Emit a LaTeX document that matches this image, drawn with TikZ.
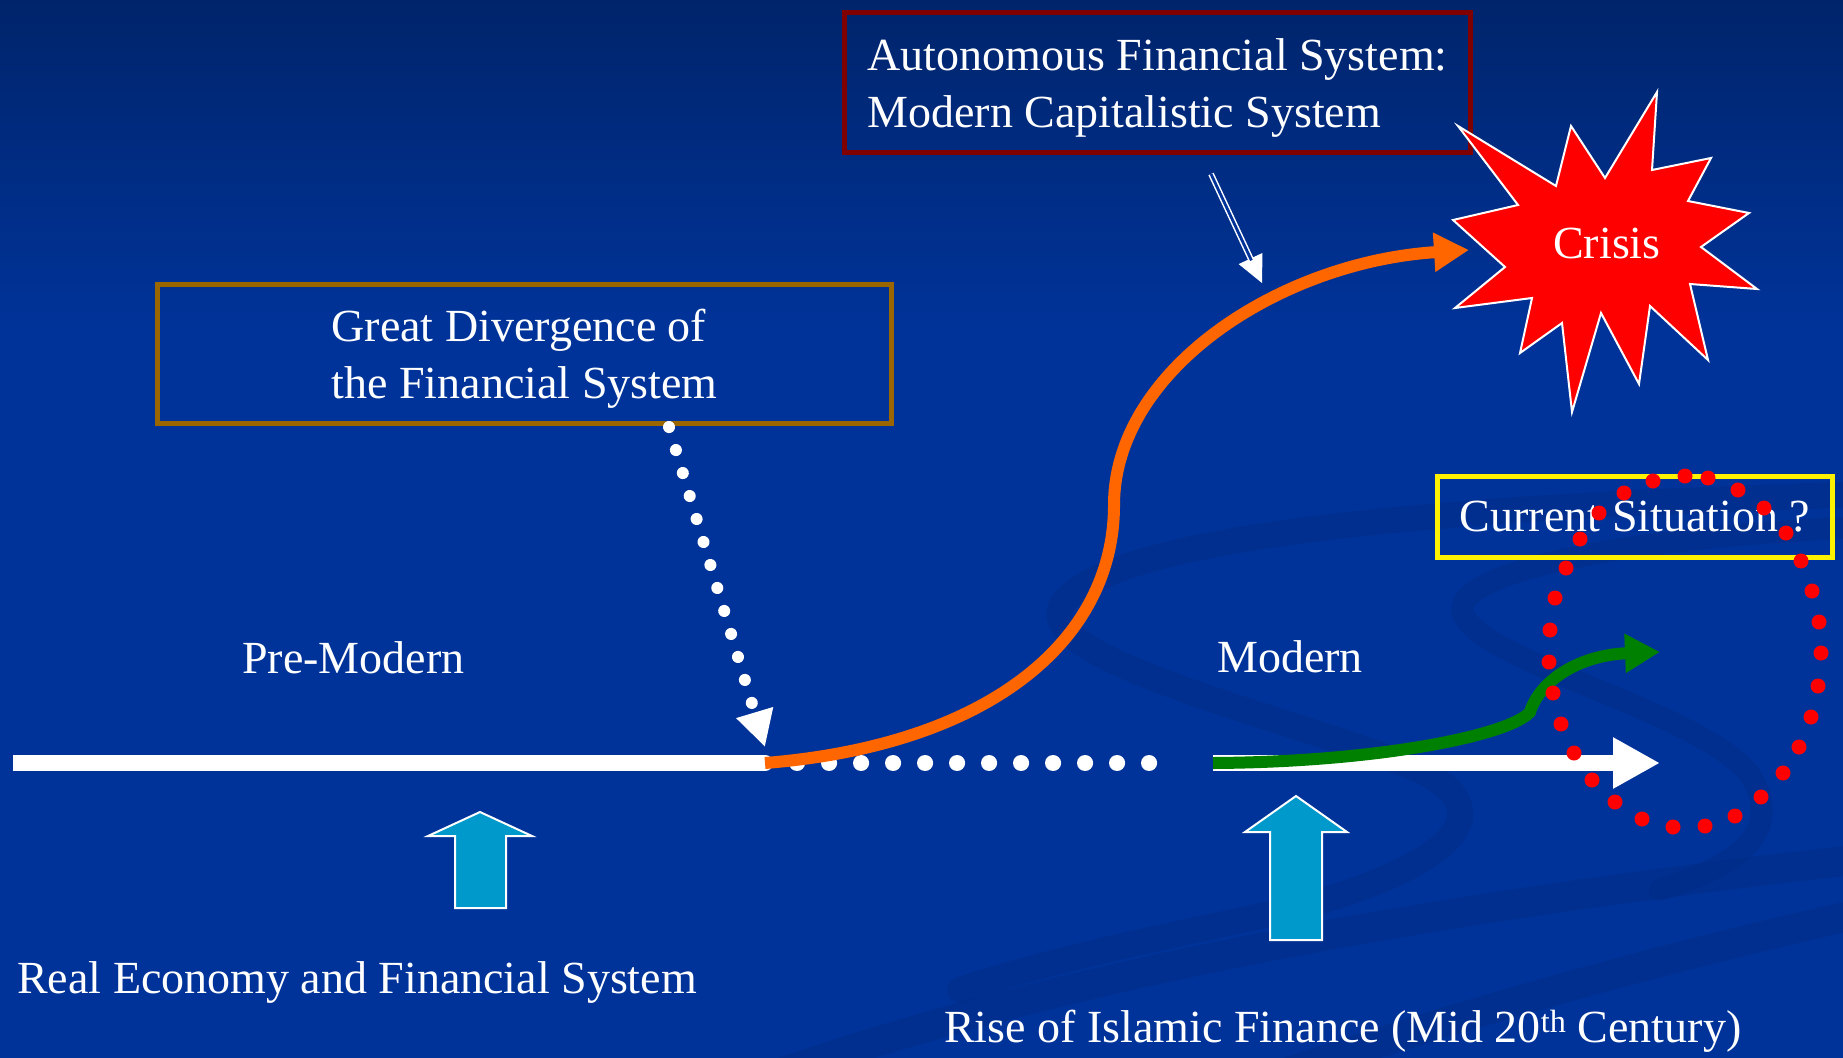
\documentclass[tikz,border=0pt]{standalone}
\usepackage{fontspec}
\setmainfont{Liberation Serif}
\usetikzlibrary{arrows.meta}
\definecolor{bgblue}{HTML}{003399}
\definecolor{bgtop}{HTML}{00246A}
\definecolor{swooshc}{HTML}{002C86}
\definecolor{boxred}{HTML}{800000}
\definecolor{boxbrown}{HTML}{996600}
\definecolor{orangeline}{HTML}{FF6600}
\definecolor{greenline}{HTML}{008000}
\definecolor{upblue}{HTML}{0099CC}
\begin{document}
\begin{tikzpicture}[x=1pt,y=-1pt,
  lbl/.style={text=white, font=\fontsize{46}{57}\selectfont, inner sep=0pt},
  framebox/.style={draw=#1, line width=5pt, inner sep=0pt, text=white,
    font=\fontsize{46}{57}\selectfont, align=left},
  upshape/.style={fill=upblue, draw=white, line width=2pt, line join=miter},
  swoosh/.style={draw=swooshc, line width=#1, line cap=round, opacity=0.5},
  mainline/.style={white, line width=16pt},
  curvearrow/.style={line width=12pt, -{Triangle[length=35pt,width=37pt]}},
  reddot/.style={fill=red},
]
\useasboundingbox (0,0) rectangle (1843,1057);
% background
\fill[bgblue] (-10,-10) rectangle (1853,1067);
\shade[top color=bgtop, bottom color=bgblue] (-10,-10) rectangle (1853,330);
% swooshes
\begin{scope}
\clip (0,0) rectangle (1843,1057);
\draw[swoosh=26pt] (1843,495) .. controls (1500,505) and (1110,530) .. (1062,605)
  .. controls (1030,660) and (1300,720) .. (1420,770)
  .. controls (1520,820) and (1420,880) .. (1270,914)
  .. controls (1150,940) and (1050,960) .. (960,990);
\draw[swoosh=22pt] (1843,528) .. controls (1600,540) and (1460,575) .. (1462,610)
  .. controls (1470,660) and (1700,710) .. (1750,775)
  .. controls (1790,840) and (1720,870) .. (1660,890);
\draw[swoosh=30pt] (760,1080) .. controls (1100,960) and (1500,900) .. (1853,860);
\draw[swoosh=30pt] (1250,1085) .. controls (1500,1000) and (1700,950) .. (1853,915);
\end{scope}

% boxes
\node[framebox=boxred, minimum width=626pt, minimum height=140pt,
  text height=99pt, text depth=10pt] (afs) at (1157.5,82.5)
  {Autonomous Financial System:\\Modern Capitalistic System};
\node[framebox=boxbrown, minimum width=734pt, minimum height=139pt,
  text height=98pt, text depth=10pt] (gd) at (524.5,354)
  {Great Divergence of\\the Financial System};

% coordinates
\coordinate (origin) at (13,763);
\coordinate (split) at (765,763);
\coordinate (dotend) at (1152,763);
\coordinate (modstart) at (1213,763);
\coordinate (arrowend) at (1660,763);
\coordinate (greenend) at (1660,652);
\coordinate (crisisin) at (1469,250);
\coordinate (gdout) at (669,427);
\coordinate (gdin) at (765,747);
\coordinate (afsout) at (1211,174);
\coordinate (afsin) at (1262,283);

% crisis star
\filldraw[fill=red, draw=white, line width=2pt, line join=miter]
  (1458,126) -- (1556,186) -- (1571,126) -- (1605,178) -- (1657,92) -- (1652,170)
  -- (1711,158) -- (1688,201) -- (1749,213) -- (1701,247) -- (1757,289) -- (1690,284)
  -- (1708,360) -- (1650,306) -- (1639,384) -- (1601,313) -- (1572,412) -- (1562,323)
  -- (1520,353) -- (1532,298) -- (1455,308) -- (1505,267) -- (1453,220) -- (1518,205)
  -- cycle;
\node[lbl, anchor=base west] (crisis) at (1553,258) {Crisis};

% current situation box
\node[framebox=yellow, minimum width=395pt, minimum height=81pt] (cur) at (1635,517)
  {Current Situation ?};

% main lines
\draw[mainline] (origin) -- (split);
\draw[white, line width=16pt, line cap=round, dash pattern=on 0.1pt off 31.9pt]
  (split) -- (dotend);
\draw[mainline, -{Triangle[length=47pt,width=48pt]}] (modstart) -- (arrowend);
\draw[curvearrow, greenline] (modstart) .. controls (1380,762) and (1510,735) .. (1530,712)
  .. controls (1540,680) and (1580,655) .. (greenend);
\draw[curvearrow, orangeline] (split) .. controls (990,745) and (1114,640) .. (1114,505)
  .. controls (1114,370) and (1280,262) .. (crisisin);

% dotted arrow from Great Divergence
\draw[white, line width=12pt, line cap=round, dash pattern=on 0.1pt off 23.9pt,
  -{Triangle[length=36pt,width=36pt]}] (gdout) -- (gdin);

% double arrow from autonomous box
\draw[white, line width=1pt, -{Triangle[length=27pt,width=26pt]}] (afsout) -- (afsin);
\draw[white, line width=1.5pt, double=bgblue, double distance=2.8pt, shorten >=25pt]
  (afsout) -- (afsin);

% up arrows
\draw[upshape] (480,812) -- (532,836) -- (506,836) -- (506,908) -- (455,908) -- (455,836)
  -- (428,836) -- cycle;
\draw[upshape] (1296,796) -- (1347,832) -- (1322,832) -- (1322,940) -- (1270,940)
  -- (1270,832) -- (1245,832) -- cycle;

% labels
\node[lbl, anchor=base west] (pre) at (242,673) {Pre-Modern};
\node[lbl, anchor=base west] (mod) at (1217,672) {Modern};
\node[lbl, anchor=base west] (real) at (17,993) {Real Economy and Financial System};
\node[lbl, anchor=base west] (rise) at (944,1042)
  {Rise of Islamic Finance (Mid 20\textsuperscript{th} Century)};

% red dotted loop
\foreach \p in {(1685,476),(1708,478),(1738,490),(1764,508),(1786,533),(1801,561),
  (1812,591),(1819,622),(1821,653),(1818,686),(1811,717),(1799,747),(1783,773),
  (1761,797),(1735,816),(1705,826),(1673,827),(1642,819),(1615,802),(1592,780),
  (1574,753),(1561,724),(1553,693),(1549,662),(1550,630),(1555,598),(1566,568),
  (1580,539),(1599,513),(1624,493),(1653,481)}
  \fill[reddot] \p circle (7.5pt);
\end{tikzpicture}
\end{document}
